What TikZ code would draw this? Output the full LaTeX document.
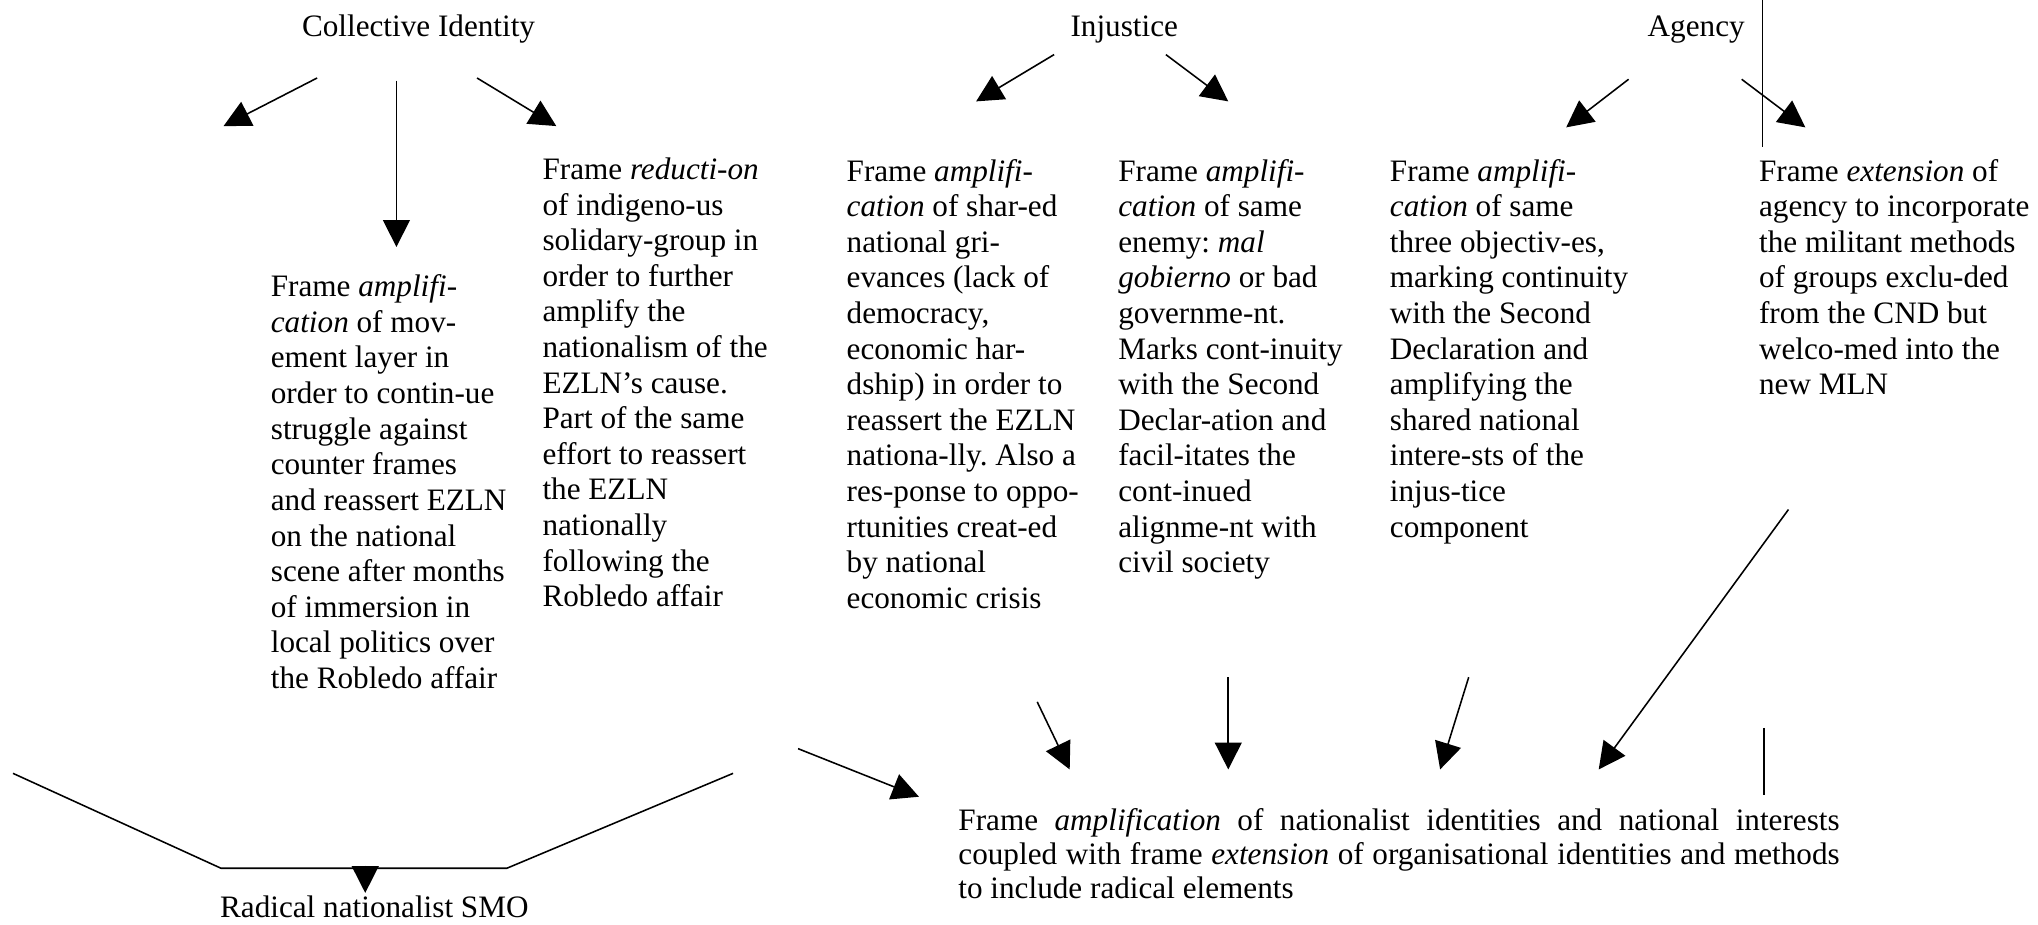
\documentclass[tikz,border=0pt]{standalone}
\usepackage{fontspec}
\setmainfont{Liberation Serif}
\usetikzlibrary{arrows.meta}
\frenchspacing
\begin{document}
\begin{tikzpicture}[x=0.5pt,y=-0.5pt,
  every node/.style={inner sep=0pt, font=\fontsize{12}{13.7}\selectfont},
  col/.style={anchor=north west, align=left},
  head/.style={anchor=base},
  arr/.style={-{Triangle[length=10.3pt,width=10.3pt]}, line width=0.6pt},
  plain/.style={line width=0.6pt}]
\useasboundingbox (0,0) rectangle (1568,711);

% frame headings
\node[head] (ci)  at (322,28)  {Collective Identity};
\node[head] (inj) at (865,28)  {Injustice};
\node[head] (agc) at (1305,28) {Agency};

% collective identity columns
\node[col] (movAmp) at (208,211) {Frame \textit{amplifi-}\\
\textit{cation} of mov-\\ement layer in\\order to contin-ue\\struggle against\\
counter frames\\and reassert EZLN\\on the national\\scene after months\\
of immersion in\\local politics over\\the Robledo affair};
\node[col] (indRed) at (417,121) {Frame \textit{reducti-on}\\of indigeno-us\\
solidary-group in\\order to further\\amplify the\\nationalism of the\\
EZLN’s cause.\\Part of the same\\effort to reassert\\the EZLN\\nationally\\
following the\\Robledo affair};

% injustice columns
\node[col] (grvAmp) at (651,122) {Frame \textit{amplifi-}\\
\textit{cation} of shar-ed\\national gri-\\evances (lack of\\democracy,\\
economic har-\\dship) in order to\\reassert the EZLN\\nationa-lly. Also a\\
res-ponse to oppo-\\rtunities creat-ed\\by national\\economic crisis};
\node[col] (enmAmp) at (860,122) {Frame \textit{amplifi-}\\
\textit{cation} of same\\enemy: \textit{mal}\\\textit{gobierno} or bad\\
governme-nt.\\Marks cont-inuity\\with the Second\\Declar-ation and\\
facil-itates the\\cont-inued\\alignme-nt with\\civil society};

% agency columns
\node[col] (objAmp) at (1069,122) {Frame \textit{amplifi-}\\
\textit{cation} of same\\three objectiv-es,\\marking continuity\\
with the Second\\Declaration and\\amplifying the\\shared national\\
intere-sts of the\\injus-tice\\component};
\node[col] (agExt) at (1353,122) {Frame \textit{extension} of\\
agency to incorporate\\the militant methods\\of groups exclu-ded\\
from the CND but\\welco-med into the\\new MLN};

% outcomes
\node[anchor=north west, align=left, font=\fontsize{12}{13}\selectfont] (res) at (737,622)
 {\makebox[339pt][s]{Frame \textit{amplification} of nationalist identities and national interests}\\
  \makebox[339pt][s]{coupled with frame \textit{extension} of organisational identities and methods}\\
  to include radical elements};
\node[head] (smo) at (288,706) {Radical nationalist SMO};

% connector end points
\coordinate (ciLa) at (244,60);  \coordinate (ciLb) at (172,97);
\coordinate (ciMa) at (305,62);  \coordinate (ciMb) at (305,190);
\coordinate (ciRa) at (367,60);  \coordinate (ciRb) at (428,97);
\coordinate (inLa) at (811,42);  \coordinate (inLb) at (751,78);
\coordinate (inRa) at (897,42);  \coordinate (inRb) at (945,78);
\coordinate (agLa) at (1253,61); \coordinate (agLb) at (1205,98);
\coordinate (agRa) at (1340,61); \coordinate (agRb) at (1389,98);
\coordinate (vTa)  at (1356,0);  \coordinate (vTb)  at (1356,113);
\coordinate (b1a) at (798,540);  \coordinate (b1b) at (823,592);
\coordinate (b2a) at (945,521);  \coordinate (b2b) at (945,592);
\coordinate (b3a) at (1130,521); \coordinate (b3b) at (1108,592);
\coordinate (b4a) at (1376,392); \coordinate (b4b) at (1230,592);
\coordinate (vBa) at (1357,560); \coordinate (vBb) at (1357,612);
\coordinate (smoOut) at (614,576); \coordinate (smoIn) at (707,613);
\coordinate (vL) at (10,595);   \coordinate (vL2) at (170,668);
\coordinate (vR2) at (390,668); \coordinate (vR) at (564,595);
\coordinate (vMid) at (281,666); \coordinate (vTip) at (281,687);

% connectors
\draw[arr] (ciLa) -- (ciLb);
\draw[arr] (ciMa) -- (ciMb);
\draw[arr] (ciRa) -- (ciRb);
\draw[arr] (inLa) -- (inLb);
\draw[arr] (inRa) -- (inRb);
\draw[arr] (agLa) -- (agLb);
\draw[arr] (agRa) -- (agRb);
\draw[plain] (vTa) -- (vTb);
\draw[arr] (b1a) -- (b1b);
\draw[arr] (b2a) -- (b2b);
\draw[arr] (b3a) -- (b3b);
\draw[arr] (b4a) -- (b4b);
\draw[plain] (vBa) -- (vBb);
\draw[arr] (smoOut) -- (smoIn);
\draw[plain] (vL) -- (vL2) -- (vR2) -- (vR);
\draw[arr] (vMid) -- (vTip);
\end{tikzpicture}
\end{document}
